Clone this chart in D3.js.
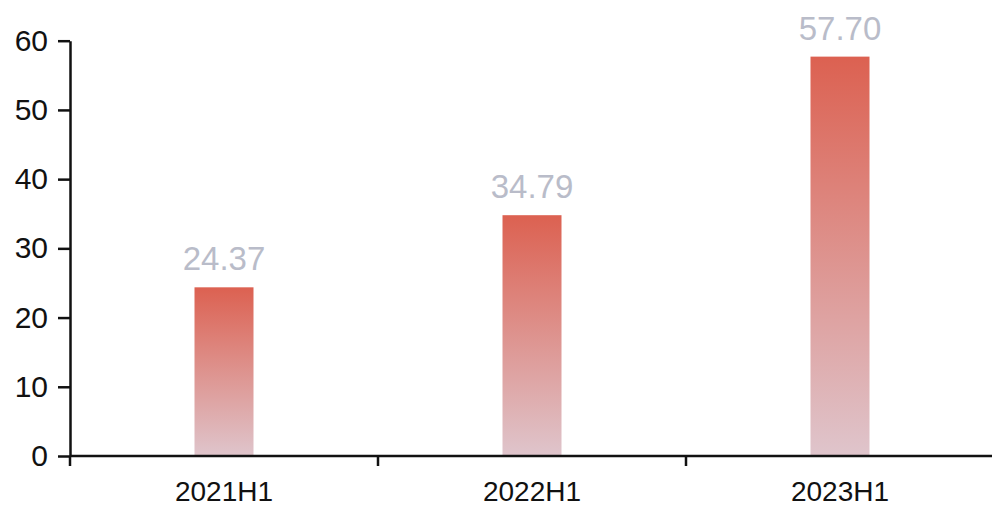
<!DOCTYPE html>
<html><head><meta charset="utf-8">
<script src="https://cdn.jsdelivr.net/npm/d3@7"></script>
<style>body{margin:0;background:#fff}svg{display:block}</style>
</head><body>
<svg id="c" width="992" height="507"></svg>
<script>
const categories = ["2021H1", "2022H1", "2023H1"];
const values = [24.37, 34.79, 57.70];
const yTicks = [0, 10, 20, 30, 40, 50, 60];

const svg = d3.select("#c");
const font = "'Liberation Sans', Arial, sans-serif";
const x = d3.scaleBand().domain(categories).range([70, 994]);
const y = d3.scaleLinear().domain([0, 60]).range([456, 40.7]);

const defs = svg.append("defs");
const g = defs.append("linearGradient").attr("id", "grad").attr("x1", 0).attr("y1", 0).attr("x2", 0).attr("y2", 1);
g.append("stop").attr("offset", "0%").attr("stop-color", "#dc6151");
g.append("stop").attr("offset", "100%").attr("stop-color", "#dfc5cc");

const bw = 59;
svg.selectAll("rect.bar").data(values).enter().append("rect")
  .attr("class", "bar")
  .attr("x", (d, i) => x(categories[i]) + x.bandwidth() / 2 - bw / 2)
  .attr("y", d => y(d))
  .attr("width", bw)
  .attr("height", d => y(0) - y(d))
  .attr("fill", "url(#grad)");

svg.selectAll("text.val").data(values).enter().append("text")
  .attr("class", "val")
  .attr("x", (d, i) => x(categories[i]) + x.bandwidth() / 2)
  .attr("y", d => y(d) - 17)
  .attr("text-anchor", "middle")
  .attr("font-family", font)
  .attr("font-size", 33)
  .attr("fill", "#b9bcc9")
  .text(d => d.toFixed(2));

// y axis
const ya = svg.append("g").attr("transform", "translate(70,0)")
  .call(d3.axisLeft(y).tickValues(yTicks).tickSize(12).tickPadding(10).tickSizeOuter(0));
ya.select(".domain").attr("stroke", "#111").attr("stroke-width", 2.5);
ya.selectAll(".tick line").attr("stroke", "#111").attr("stroke-width", 2.5);
ya.selectAll(".tick text").attr("font-family", font).attr("font-size", 30).attr("fill", "#111");

// x axis
const xa = svg.append("g").attr("transform", "translate(0,456)")
  .call(d3.axisBottom(x).tickSize(0).tickPadding(25));
xa.select(".domain").remove();
xa.append("line").attr("x1", 70).attr("x2", 994).attr("y1", 0).attr("y2", 0).attr("stroke", "#111").attr("stroke-width", 2.5);
xa.selectAll(".bnd").data(categories).enter().append("line")
  .attr("x1", d => x(d)).attr("x2", d => x(d))
  .attr("y1", 0).attr("y2", 10)
  .attr("stroke", "#111").attr("stroke-width", 2.5);
xa.selectAll(".tick text").attr("font-family", font).attr("font-size", 28).attr("fill", "#111");
</script>
</body></html>
